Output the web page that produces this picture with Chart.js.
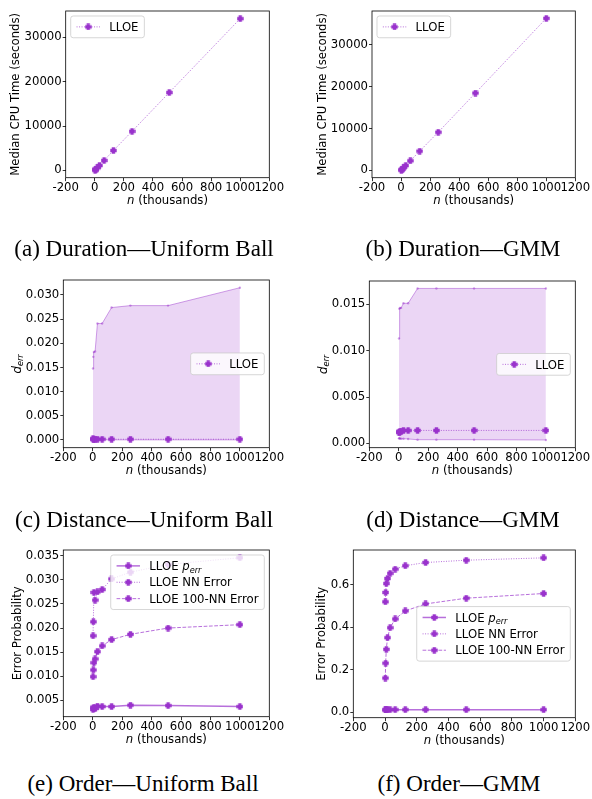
<!DOCTYPE html>
<html>
<head>
<meta charset="utf-8">
<script src="https://cdn.jsdelivr.net/npm/chart.js@4.4.1/dist/chart.umd.min.js"></script>
<style>
  html, body { margin: 0; padding: 0; background: #fff; }
  body { width: 592px; height: 799px; position: relative; overflow: hidden; }
  canvas { position: absolute; }
  .cap { position: absolute; font-family: "Liberation Serif", "Times New Roman", serif; font-size: 23px;
         line-height: 24px; white-space: nowrap; transform: translateX(-50%); color: #000; }
</style>
</head>
<body>
<canvas id="ca" width="296" height="240" style="left:0px;top:0px"></canvas>
<canvas id="cb" width="296" height="240" style="left:296px;top:0px"></canvas>
<canvas id="cc" width="296" height="240" style="left:0px;top:270px"></canvas>
<canvas id="cd" width="296" height="240" style="left:296px;top:270px"></canvas>
<canvas id="ce" width="296" height="240" style="left:0px;top:530px"></canvas>
<canvas id="cf" width="296" height="240" style="left:296px;top:530px"></canvas>
<div class="cap" style="left:144px;top:237px">(a) Duration—Uniform Ball</div>
<div class="cap" style="left:463px;top:237px">(b) Duration—GMM</div>
<div class="cap" style="left:144px;top:508px">(c) Distance—Uniform Ball</div>
<div class="cap" style="left:463px;top:508px">(d) Distance—GMM</div>
<div class="cap" style="left:143px;top:772px">(e) Order—Uniform Ball</div>
<div class="cap" style="left:459px;top:772px">(f) Order—GMM</div>
<script>
// n in thousands
const nThousands = [2, 4, 8, 16, 32, 64, 128, 256, 512, 1000];
const xTicks = [-200, 0, 200, 400, 600, 800, 1000, 1200];

// (a) (b) median CPU time, seconds
const timeBall = [70, 140, 280, 550, 1100, 2240, 4480, 8800, 17540, 34180];
const timeGmm = [75, 150, 290, 580, 1170, 2300, 4600, 9130, 18490, 36350];
const timeTicks = [0, 10000, 20000, 30000];

// (c) (d) distance error: mean, max, min
const distBallMean = [0.00022, 0.00019, 0.00018, 0.00017, 0.00016, 0.00016, 0.00015, 0.00015, 0.00015, 0.00015];
const distBallMax = [0.0148, 0.0172, 0.0182, 0.0183, 0.0241, 0.0241, 0.0274, 0.0278, 0.0278, 0.0315];
const distBallMin = [0.00003, 0.00003, 0.00002, 0.00002, 0.00002, 0.00002, 0.00002, 0.00002, 0.00002, 0.00002];
const distBallTicks = [0, 0.005, 0.010, 0.015, 0.020, 0.025, 0.030];

const distGmmMean = [0.0012, 0.0012, 0.0013, 0.0013, 0.0014, 0.0014, 0.0014, 0.0014, 0.0014, 0.0014];
const distGmmMax = [0.0113, 0.0145, 0.0146, 0.0146, 0.0151, 0.0151, 0.0167, 0.0167, 0.0167, 0.0167];
const distGmmMin = [0.00055, 0.00055, 0.00053, 0.0005, 0.0005, 0.00048, 0.0004, 0.0004, 0.0004, 0.00037];
const distGmmTicks = [0, 0.005, 0.010, 0.015];

// (e) (f) order error probabilities
const orderBallPerr = [0.0031, 0.0034, 0.0036, 0.0033, 0.0038, 0.0037, 0.0037, 0.0040, 0.0039, 0.0037];
const orderBallNN = [0.0184, 0.0213, 0.0274, 0.0258, 0.0275, 0.0280, 0.0302, 0.0316, 0.0332, 0.0346];
const orderBallKnn = [0.0099, 0.0113, 0.0128, 0.0136, 0.0151, 0.0163, 0.0176, 0.0187, 0.0200, 0.0207];
const orderBallTicks = [0.005, 0.010, 0.015, 0.020, 0.025, 0.030, 0.035];

const orderGmmPerr = [0.011, 0.011, 0.012, 0.012, 0.012, 0.012, 0.012, 0.012, 0.012, 0.012];
const orderGmmNN = [0.520, 0.564, 0.606, 0.630, 0.654, 0.674, 0.690, 0.705, 0.716, 0.727];
const orderGmmKnn = [0.161, 0.231, 0.296, 0.351, 0.398, 0.439, 0.477, 0.510, 0.537, 0.559];
const orderGmmTicks = [0.0, 0.2, 0.4, 0.6];

// rich text pieces: t = text, it = italic, sub = subscript
const lloeLabel = [{t: 'LLOE'}];
const orderLabels = [
  [{t: 'LLOE '}, {t: 'p', it: 1}, {t: 'err', it: 1, sub: 1}],
  [{t: 'LLOE NN Error'}],
  [{t: 'LLOE 100-NN Error'}]
];
const xTitle = [{t: 'n', it: 1}, {t: ' (thousands)'}];
const timeTitle = [{t: 'Median CPU Time (seconds)'}];
const distTitle = [{t: 'd', it: 1}, {t: 'err', it: 1, sub: 1}];
const orderTitle = [{t: 'Error Probability'}];

const FS = 11.7;
const PURPLE = '#9932cc';
const LINE = 'rgba(153,50,204,0.7)';
const BAND_LINE = 'rgba(153,50,204,0.45)';
const BAND_FILL = 'rgba(153,50,204,0.2)';
const DOT = [1, 1.5];
const DASH = [3.7, 1.6];

// filled plus marker (matplotlib 'P')
function makePlus(size, arm, color) {
  const c = document.createElement('canvas');
  c.width = c.height = size;
  const g = c.getContext('2d');
  const o = (size - arm) / 2;
  g.fillStyle = color;
  g.fillRect(o, 0.3, arm, size - 0.6);
  g.fillRect(0.3, o, size - 0.6, arm);
  return c;
}
const PLUS = makePlus(7, 3.4, PURPLE);

function pts(ys) {
  return nThousands.map((x, i) => ({x: x, y: ys[i]}));
}
function series(label, ys, dash, width) {
  return {
    label: label, data: pts(ys), borderColor: LINE, borderWidth: width || 1, borderDash: dash,
    pointStyle: PLUS, pointRadius: 3.5, pointHoverRadius: 3.5,
    pointBackgroundColor: PURPLE, pointBorderColor: PURPLE, fill: false
  };
}
function bandEdge(ys, target) {
  return {
    label: '', data: pts(ys), borderColor: BAND_LINE, borderWidth: 1,
    pointStyle: 'circle', pointRadius: 1.2, pointHoverRadius: 1.2,
    pointBackgroundColor: BAND_LINE, pointBorderWidth: 0,
    fill: target === undefined ? false : target, backgroundColor: BAND_FILL
  };
}

function partFont(p) {
  return (p.it ? 'italic ' : '') + (p.sub ? FS * 0.7 : FS) + 'px "DejaVu Sans"';
}
function richWidth(ctx, parts) {
  let w = 0;
  parts.forEach(p => { ctx.font = partFont(p); w += ctx.measureText(p.t).width; });
  return w;
}
function drawRich(ctx, parts, x, y) {
  let cx = x;
  parts.forEach(p => {
    ctx.font = partFont(p);
    ctx.fillText(p.t, cx, y + (p.sub ? FS * 0.22 : 0));
    cx += ctx.measureText(p.t).width;
  });
}

function drawLegend(chart, lg) {
  const ctx = chart.ctx, a = chart.chartArea;
  const bp = 0.5 * FS, hl = 2 * FS, hp = 0.8 * FS, padV = 0.93 * FS, pitch = 1.4 * FS, gap = 5;
  let tw = 0;
  lg.labels.forEach(parts => { tw = Math.max(tw, richWidth(ctx, parts)); });
  const w = 2 * bp + hl + hp + tw, h = 2 * padV + (lg.labels.length - 1) * pitch;
  const x = lg.loc.indexOf('left') >= 0 ? a.left + gap : a.right - gap - w;
  const y = lg.loc.indexOf('upper') === 0 ? a.top + gap : (a.top + a.bottom) / 2 - h / 2;
  ctx.save();
  ctx.beginPath();
  if (ctx.roundRect) ctx.roundRect(x, y, w, h, 2.5); else ctx.rect(x, y, w, h);
  ctx.fillStyle = 'rgba(255,255,255,0.8)';
  ctx.fill();
  ctx.strokeStyle = 'rgba(204,204,204,0.8)';
  ctx.lineWidth = 1;
  ctx.stroke();
  ctx.textAlign = 'left';
  ctx.textBaseline = 'alphabetic';
  lg.items.forEach((di, i) => {
    const ds = chart.data.datasets[di];
    const cy = y + padV + i * pitch, hx = x + bp;
    ctx.beginPath();
    ctx.setLineDash(ds.borderDash || []);
    ctx.strokeStyle = ds.borderColor;
    ctx.lineWidth = ds.borderWidth;
    ctx.moveTo(hx, cy);
    ctx.lineTo(hx + hl, cy);
    ctx.stroke();
    ctx.setLineDash([]);
    ctx.drawImage(PLUS, hx + hl / 2 - PLUS.width / 2, cy - PLUS.height / 2);
    ctx.fillStyle = '#000';
    drawRich(ctx, lg.labels[i], hx + hl + hp, cy + 0.36 * FS);
  });
  ctx.restore();
}

function decor(panel) {
  return {
    id: 'decor',
    afterDraw(chart) {
      const ctx = chart.ctx, a = chart.chartArea;
      ctx.save();
      ctx.setLineDash([]);
      ctx.strokeStyle = '#000';
      ctx.lineWidth = 0.8;
      ctx.strokeRect(a.left, a.top, a.right - a.left, a.bottom - a.top);
      ctx.fillStyle = '#000';
      ctx.textAlign = 'left';
      ctx.textBaseline = 'alphabetic';
      const xw = richWidth(ctx, xTitle);
      drawRich(ctx, xTitle, (a.left + a.right) / 2 - xw / 2, a.bottom + 26.5);
      ctx.font = FS + 'px "DejaVu Sans"';
      let maxW = 0;
      chart.scales.y.ticks.forEach(t => { maxW = Math.max(maxW, ctx.measureText(t.label).width); });
      ctx.translate(a.left - 4 - maxW - 9.5, (a.top + a.bottom) / 2);
      ctx.rotate(-Math.PI / 2);
      const yw = richWidth(ctx, panel.yTitle);
      drawRich(ctx, panel.yTitle, -yw / 2, FS * 0.36);
      ctx.restore();
      drawLegend(chart, panel.legend);
    }
  };
}

const W = 296, H = 240, XH = 30;
const panels = [
  {id: 'ca', area: [65.7, 11, 269.3, 177.7], yMin: -1640, yMax: 35900, yTicks: timeTicks,
   fmt: v => String(v), yTitle: timeTitle,
   legend: {loc: 'upper left', items: [0], labels: [lloeLabel]},
   datasets: [series('LLOE', timeBall, DOT)]},
  {id: 'cb', area: [76, 11, 279.3, 177.7], yMin: -1740, yMax: 38100, yTicks: timeTicks,
   fmt: v => String(v), yTitle: timeTitle,
   legend: {loc: 'upper left', items: [0], labels: [lloeLabel]},
   datasets: [series('LLOE', timeGmm, DOT)]},
  {id: 'cc', area: [63.3, 10, 269.3, 177.7], yMin: -0.0016, yMax: 0.0331, yTicks: distBallTicks,
   fmt: v => v.toFixed(3), yTitle: distTitle,
   legend: {loc: 'center right', items: [0], labels: [lloeLabel]},
   datasets: [series('LLOE', distBallMean, DOT), bandEdge(distBallMax, 2), bandEdge(distBallMin)]},
  {id: 'cd', area: [73.3, 11, 279.3, 177.7], yMin: -0.00046, yMax: 0.0175, yTicks: distGmmTicks,
   fmt: v => v.toFixed(3), yTitle: distTitle,
   legend: {loc: 'center right', items: [0], labels: [lloeLabel]},
   datasets: [series('LLOE', distGmmMean, DOT), bandEdge(distGmmMax, 2), bandEdge(distGmmMin)]},
  {id: 'ce', area: [63.3, 20, 269.3, 186.7], yMin: 0.0016, yMax: 0.0362, yTicks: orderBallTicks,
   fmt: v => v.toFixed(3), yTitle: orderTitle,
   legend: {loc: 'upper right', items: [0, 1, 2], labels: orderLabels},
   datasets: [series('LLOE p_err', orderBallPerr, [], 1.5), series('LLOE NN Error', orderBallNN, DOT),
              series('LLOE 100-NN Error', orderBallKnn, DASH)]},
  {id: 'cf', area: [57.3, 20, 279.3, 187.7], yMin: -0.026, yMax: 0.764, yTicks: orderGmmTicks,
   fmt: v => v.toFixed(1), yTitle: orderTitle,
   legend: {loc: 'center right', items: [0, 1, 2], labels: orderLabels},
   datasets: [series('LLOE p_err', orderGmmPerr, [], 1.5), series('LLOE NN Error', orderGmmNN, DOT),
              series('LLOE 100-NN Error', orderGmmKnn, DASH)]}
];

const tickFont = {family: '"DejaVu Sans"', size: FS};
panels.forEach(p => {
  const [l, t, r, b] = p.area;
  new Chart(document.getElementById(p.id).getContext('2d'), {
    type: 'line',
    data: {datasets: p.datasets},
    options: {
      responsive: false,
      animation: false,
      devicePixelRatio: 1,
      layout: {autoPadding: false, padding: {left: 0, top: t, right: W - r, bottom: H - b - XH}},
      plugins: {legend: {display: false}, tooltip: {enabled: false}},
      scales: {
        x: {
          type: 'linear', min: -200, max: 1200,
          afterBuildTicks: s => { s.ticks = xTicks.map(v => ({value: v})); },
          afterFit: s => { s.height = XH; },
          ticks: {autoSkip: false, maxRotation: 0, minRotation: 0, padding: 0, color: '#000',
                  font: tickFont, callback: v => String(v)},
          grid: {drawOnChartArea: false, tickLength: 3.5, color: '#000', lineWidth: 0.8},
          border: {display: false}
        },
        y: {
          type: 'linear', min: p.yMin, max: p.yMax,
          afterBuildTicks: s => { s.ticks = p.yTicks.map(v => ({value: v})); },
          afterFit: s => { s.width = l; },
          ticks: {padding: 1, color: '#000', font: tickFont, callback: v => p.fmt(v)},
          grid: {drawOnChartArea: false, tickLength: 3, color: '#000', lineWidth: 0.8},
          border: {display: false}
        }
      }
    },
    plugins: [decor(p)]
  });
});
</script>
</body>
</html>
